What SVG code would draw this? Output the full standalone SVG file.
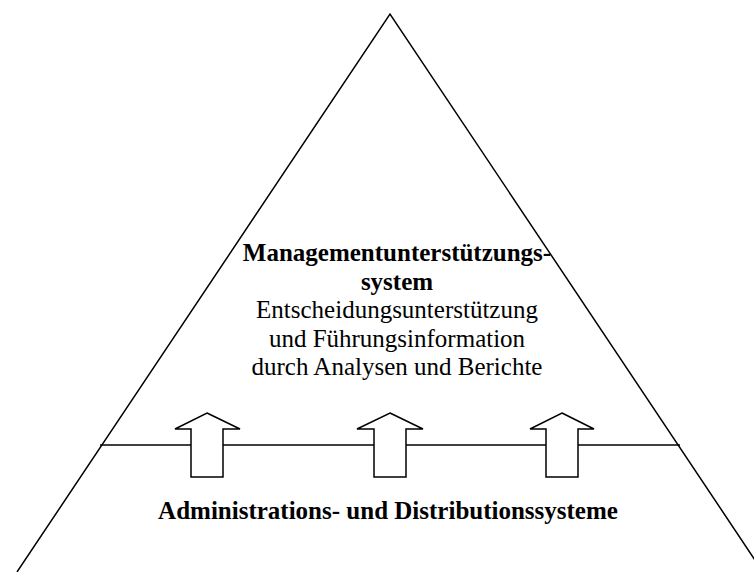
<svg xmlns="http://www.w3.org/2000/svg" width="754" height="572" viewBox="0 0 754 572">
  <style>
    .edge { fill: none; stroke: #000; stroke-width: 1.5; }
    .arrow { fill: #fff; stroke: #000; stroke-width: 1.5; stroke-linejoin: miter; }
    .t { font-family: "Liberation Serif", "Times New Roman", serif; fill: #000; text-anchor: middle; }
    .b { font-weight: bold; font-size: 25px; }
    .r { font-size: 25px; }
  </style>
  <rect width="754" height="572" fill="#fff"/>
  <g id="pyramid">
    <polyline class="edge" points="17,572 390,14 763,572"/>
    <line class="edge" x1="100" y1="445" x2="680" y2="445"/>
  </g>
  <g id="connectors">
    <polygon class="arrow" points="207,413 240,429 223,429 223,477 191,477 191,429 175,429"/>
    <polygon class="arrow" points="390,413 423,429 406,429 406,477 374,477 374,429 357,429"/>
    <polygon class="arrow" points="562,413 594,429 578,429 578,477 546,477 546,429 530,429"/>
  </g>
  <g id="management">
    <text class="t b" x="397" y="261">Managementunterstützungs-</text>
    <text class="t b" x="397" y="290">system</text>
    <text class="t r" x="397" y="318">Entscheidungsunterstützung</text>
    <text class="t r" x="397" y="347">und Führungsinformation</text>
    <text class="t r" x="397" y="375">durch Analysen und Berichte</text>
  </g>
  <g id="administration">
    <text class="t b" x="388" y="519">Administrations- und Distributionssysteme</text>
  </g>
</svg>
